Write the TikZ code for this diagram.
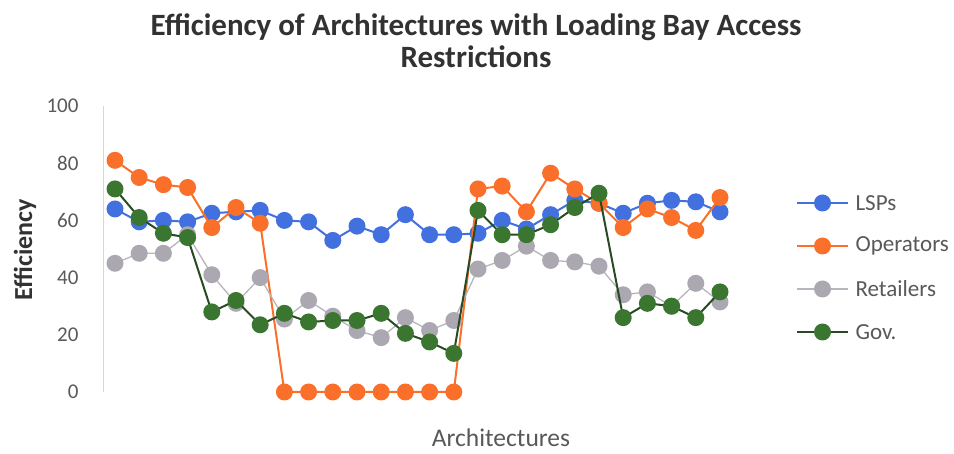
\documentclass[tikz,border=0pt]{standalone}
\usepackage{fontspec}
\setmainfont{Carlito}
\usetikzlibrary{calc}
\definecolor{lspblue}{RGB}{66,112,222}
\definecolor{opsorange}{RGB}{250,112,42}
\definecolor{retgray}{RGB}{172,168,178}
\definecolor{govgreen}{RGB}{58,118,48}
\definecolor{govline}{RGB}{40,75,35}
\definecolor{axisgray}{RGB}{215,215,215}
\definecolor{labelgray}{RGB}{89,89,89}
\definecolor{titlegray}{RGB}{50,50,50}

% one data series: prefix, line colour, line width, marker colour, 26 values
\newcommand\plotseries[5]{%
  \foreach \v [count=\i from 0] in {#5}
    \coordinate (#1\i) at ({115+24.2*\i},{61+2.86*\v});
  \draw[#2,line width=#3,line join=round] (#10) \foreach \i in {1,...,25} {-- (#1\i)};
  \foreach \i in {0,...,25}
    \node[dot,fill=#4] (#1m\i) at (#1\i) {};
}

\begin{document}
\begin{tikzpicture}[x=1pt,y=1pt,
  dot/.style={circle,draw=none,minimum size=17pt,inner sep=0pt},
  tick/.style={font=\fontsize{21}{21}\selectfont,text=labelgray,anchor=east},
  legtext/.style={font=\fontsize{23}{23}\selectfont,text=labelgray,anchor=west}]
\useasboundingbox (0,0) rectangle (954,453);
\fill[white] (0,0) rectangle (954,453);

% title
\node[font=\bfseries\fontsize{31}{32}\selectfont,text=titlegray,align=center] (title) at (476,412)
  {Efficiency of Architectures with Loading Bay Access\\Restrictions};

% value axis
\coordinate (ytop) at (103,347);
\coordinate (ybot) at (103,61);
\draw[axisgray,line width=1pt] (ybot) -- (ytop);
\foreach \t in {0,20,...,100}
  \node[tick] (tk\t) at (82,{61+2.86*\t}) {\t};
\node[font=\bfseries\fontsize{26}{26}\selectfont,text=titlegray,rotate=90] (ytitle) at (25,203) {Efficiency};
\node[font=\fontsize{25.5}{25.5}\selectfont,text=labelgray] (xtitle) at (501,15) {Architectures};

% data
\plotseries{L}{lspblue}{2pt}{lspblue}{64,59.5,60,59.5,62.5,63,63.5,60,59.5,53,58,55,62,55,55,55.5,60,57,62,67,66,62.5,66,67,66.5,63}
\plotseries{O}{opsorange}{2pt}{opsorange}{81,75,72.5,71.5,57.5,64.5,59,0,0,0,0,0,0,0,0,71,72,63,76.5,71,66,57.5,64,61,56.5,68}
\plotseries{R}{retgray!85}{1.3pt}{retgray}{45,48.5,48.5,55,41,31,40,25.5,32,26.5,21.5,19,26,21.5,25,43,46,51,46,45.5,44,34,35,30,38,31.5}
\plotseries{G}{govline}{2pt}{govgreen}{71,61,55.5,54,28,32,23.5,27.5,24.5,25,25,27.5,20.5,17.5,13.5,63.5,55,55,58.5,64.5,69.5,26,31,30,26,35}

% legend
\foreach \n/\lc/\lw/\mc/\txt/\yy in {a/lspblue/2pt/lspblue/LSPs/250,
    b/opsorange/2pt/opsorange/Operators/207,
    c/retgray!85/1.3pt/retgray/Retailers/164,
    d/govline/2pt/govgreen/Gov./121}{
  \coordinate (lg\n s) at (797,\yy);
  \coordinate (lg\n e) at (848,\yy);
  \draw[\lc,line width=\lw] (lg\n s) -- (lg\n e);
  \node[dot,fill=\mc] (lg\n m) at ($(lg\n s)!0.5!(lg\n e)$) {};
  \node[legtext] (lg\n t) at (852,\yy) {\txt};
}
\end{tikzpicture}
\end{document}
